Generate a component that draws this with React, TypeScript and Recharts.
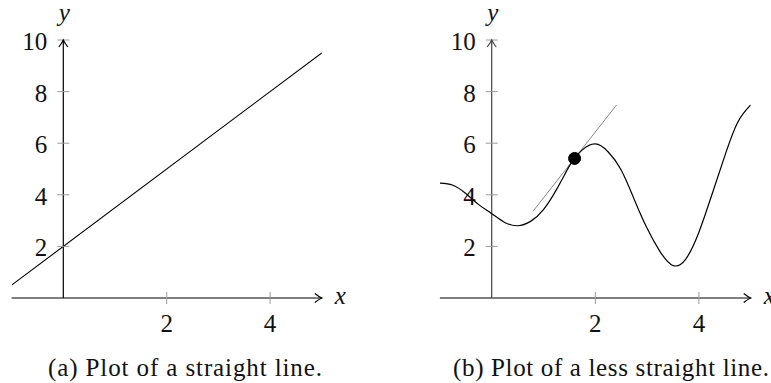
import React from 'react';
import { ComposedChart, Line, XAxis, YAxis, ReferenceLine, ReferenceDot } from 'recharts';

// ---- data ----
const straightX = [-1, 5];
const straightY = [0.5, 9.5];

const curveX = [-1, -0.75, -0.5, -0.25, 0, 0.25, 0.5, 0.75, 1, 1.25, 1.5, 1.6, 1.75, 2, 2.25, 2.5, 2.75, 3, 3.25, 3.5, 3.75, 4, 4.25, 4.5, 4.75, 5];
const curveY = [4.45, 4.37, 4.05, 3.62, 3.27, 2.93, 2.8, 2.97, 3.43, 4.2, 5.12, 5.41, 5.74, 5.97, 5.66, 4.96, 3.83, 2.7, 1.8, 1.26, 1.52, 2.55, 4.0, 5.51, 6.81, 7.48];

const tangentX = [0.8, 2.41];
const tangentY = [3.37, 7.48];

const pointX = [1.6];
const pointY = [5.41];

const xTicks = [2, 4];
const yTicks = [2, 4, 6, 8, 10];
const xDomain: [number, number] = [-1, 5];
const yDomain: [number, number] = [0, 10];
const axisLabels = ['x', 'y'];
const captions = ['(a) Plot of a straight line.', '(b) Plot of a less straight line.'];

const zip = (xs: number[], ys: number[]) => xs.map((x, i) => ({ x, y: ys[i] }));
const straightData = zip(straightX, straightY);
const curveData = zip(curveX, curveY);
const tangentData = zip(tangentX, tangentY);

const FONT = 'Liberation Serif';
const TICK_GRAY = '#9a9a9a';
const TEXT = '#111';
const textStyle = (size: number, italic = false): React.CSSProperties => ({
  fontFamily: FONT,
  fontSize: size,
  fontStyle: italic ? 'italic' : 'normal',
});

const makeYTick = (label: string) => (props: any) => {
  const { cx, cy } = props;
  return (
    <g>
      <line x1={cx - 6} x2={cx + 6} y1={cy} y2={cy} stroke={TICK_GRAY} strokeWidth={1} />
      <text x={cx - 16} y={cy + 10} textAnchor="end" style={textStyle(25)} fill={TEXT}>
        {label}
      </text>
    </g>
  );
};

const makeXTick = (label: string) => (props: any) => {
  const { cx, cy } = props;
  return (
    <g>
      <line x1={cx} x2={cx} y1={cy - 6} y2={cy + 6} stroke={TICK_GRAY} strokeWidth={1} />
      <text x={cx} y={cy + 34} textAnchor="middle" style={textStyle(25)} fill={TEXT}>
        {label}
      </text>
    </g>
  );
};

const xArrow = (props: any) => {
  const { cx, cy } = props;
  return (
    <g>
      <path
        d={`M ${cx - 7} ${cy - 4.5} Q ${cx - 2.5} ${cy - 1} ${cx} ${cy} Q ${cx - 2.5} ${cy + 1} ${cx - 7} ${cy + 4.5}`}
        stroke="#000"
        strokeWidth={1.2}
        fill="none"
      />
      <text x={cx + 13} y={cy + 6} style={textStyle(25, true)} fill={TEXT}>
        {axisLabels[0]}
      </text>
    </g>
  );
};

const makeYArrow = (color: string) => (props: any) => {
  const { cx, cy } = props;
  return (
    <g>
      <path
        d={`M ${cx - 4.5} ${cy + 7} Q ${cx - 1} ${cy + 2.5} ${cx} ${cy} Q ${cx + 1} ${cy + 2.5} ${cx + 4.5} ${cy + 7}`}
        stroke={color}
        strokeWidth={1.2}
        fill="none"
      />
      <text x={cx + 1} y={cy - 19} textAnchor="middle" style={textStyle(25, true)} fill={TEXT}>
        {axisLabels[1]}
      </text>
    </g>
  );
};

function axesElements(yAxisColor: string) {
  return [
    ...yTicks.map((v) => (
      <ReferenceDot key={`yt${v}`} x={0} y={v} r={1} ifOverflow="visible" shape={makeYTick(String(v))} />
    )),
    ...xTicks.map((v) => (
      <ReferenceDot key={`xt${v}`} x={v} y={0} r={1} ifOverflow="visible" shape={makeXTick(String(v))} />
    )),
    <ReferenceLine
      key="xaxis"
      segment={[{ x: xDomain[0], y: 0 }, { x: xDomain[1], y: 0 }]}
      stroke="#000"
      strokeWidth={1.2}
      ifOverflow="visible"
    />,
    <ReferenceLine
      key="yaxis"
      segment={[{ x: 0, y: yDomain[0] }, { x: 0, y: yDomain[1] }]}
      stroke={yAxisColor}
      strokeWidth={1.2}
      ifOverflow="visible"
    />,
    <ReferenceDot key="xarrow" x={xDomain[1]} y={0} r={1} ifOverflow="visible" shape={xArrow} />,
    <ReferenceDot key="yarrow" x={0} y={yDomain[1]} r={1} ifOverflow="visible" shape={makeYArrow(yAxisColor)} />,
  ];
}

export default function App() {
  return (
    <div style={{ position: 'absolute', left: 0, top: 0, width: 771, height: 383, background: '#fff', overflow: 'hidden' }}>
      <div style={{ position: 'absolute', left: 0, top: 0 }}>
        <ComposedChart width={385} height={383} margin={{ left: 11.6, right: 63.2, top: 40, bottom: 85 }}>
          <XAxis type="number" dataKey="x" domain={xDomain} hide allowDataOverflow />
          <YAxis type="number" dataKey="y" domain={yDomain} hide allowDataOverflow />
          {axesElements('#000')}
          <Line
            data={straightData}
            dataKey="y"
            type="linear"
            stroke="#000"
            strokeWidth={1.1}
            dot={false}
            activeDot={false}
            isAnimationActive={false}
          />
        </ComposedChart>
      </div>
      <div style={{ position: 'absolute', left: 385, top: 0 }}>
        <ComposedChart width={386} height={383} margin={{ left: 54.9, right: 20.3, top: 40, bottom: 85 }}>
          <XAxis type="number" dataKey="x" domain={xDomain} hide allowDataOverflow />
          <YAxis type="number" dataKey="y" domain={yDomain} hide allowDataOverflow />
          {axesElements('#444')}
          <Line
            data={tangentData}
            dataKey="y"
            type="linear"
            stroke="#8a8a8a"
            strokeWidth={1}
            dot={false}
            activeDot={false}
            isAnimationActive={false}
          />
          <Line
            data={curveData}
            dataKey="y"
            type="natural"
            stroke="#000"
            strokeWidth={1.2}
            dot={false}
            activeDot={false}
            isAnimationActive={false}
          />
          <ReferenceDot x={pointX[0]} y={pointY[0]} r={6} fill="#000" stroke="#000" ifOverflow="visible" />
        </ComposedChart>
      </div>
      <svg width={771} height={383} style={{ position: 'absolute', left: 0, top: 0, pointerEvents: 'none' }}>
        <text x={48} y={376} style={textStyle(25)} fill={TEXT} textLength={274} lengthAdjust="spacing">
          {captions[0]}
        </text>
        <text x={453} y={376} style={textStyle(25)} fill={TEXT} textLength={316} lengthAdjust="spacing">
          {captions[1]}
        </text>
      </svg>
    </div>
  );
}
